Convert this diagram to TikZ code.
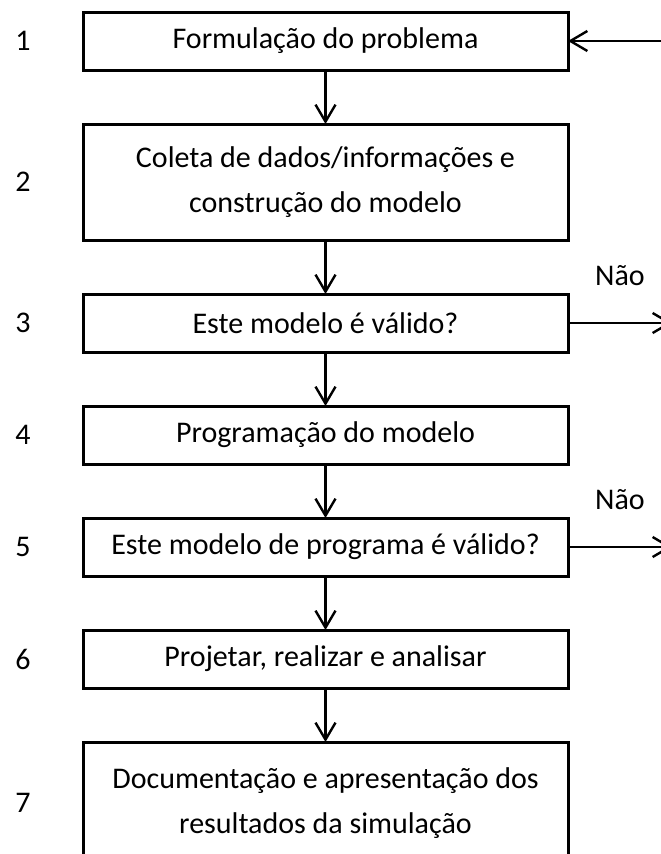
\documentclass[tikz,border=0pt]{standalone}
\usepackage{fontspec}
\setmainfont{Carlito}
\usetikzlibrary{arrows.meta,positioning}
\tikzset{
  basic/.style     = {draw, line width=3pt, rectangle, outer sep=0pt, align=center,
                      font=\fontsize{30}{45}\selectfont, minimum width=485pt},
  stage/.style     = {basic, minimum height=58pt},
  big stage/.style = {basic, minimum height=116pt},
  last stage/.style = {basic, minimum height=122pt},
  number/.style    = {font=\fontsize{30}{45}\selectfont},
  answer/.style    = {font=\fontsize{30}{45}\selectfont, inner sep=0pt}
}

\begin{document}
\begin{tikzpicture}[
	  node distance=54pt,
	  line width=2.4pt,
	  >={Straight Barb[length=17pt,width=20pt]}]
	\useasboundingbox (0,0) rectangle (661pt,-854pt);
	\clip (0,0) rectangle (661pt,-854pt);
	
	% the stages, one below the other
	\node[stage] (b1) at (325.5pt,-41pt) {Formulação do problema};
	\node[big stage, below=of b1] (b2) {Coleta de dados/informações e\\ construção do modelo};
	\node[stage, below=of b2] (b3) {Este modelo é válido?};
	\node[stage, below=of b3] (b4) {Programação do modelo};
	\node[stage, below=of b4] (b5) {Este modelo de programa é válido?};
	\node[stage, below=of b5] (b6) {Projetar, realizar e analisar};
	\node[last stage, below=of b6] (b7) {Documentação e apresentação dos\\ resultados da simulação};
	
	% step numbers on the left
	\foreach \i in {1,...,7}
	  \node[number] (n\i) at ([xshift=-302.5pt]b\i.center) {\i};
	
	% arrows from each stage to the next one
	\foreach \i [count=\j from 2] in {1,...,6}
	  \draw[->] (b\i) -- (b\j);
	
	% the "Não" exits and the way back
	\coordinate (back) at (690pt,-41pt);
	\draw[->] (back) -- (b1.east);
	\foreach \i in {3,5}{
	  \coordinate (out\i) at ([xshift=104pt]b\i.east);
	  \draw[->] (b\i.east) -- (out\i) node[answer, midway, above=36pt] (no\i) {Não};
	}
	
	\end{tikzpicture}
\end{document}
